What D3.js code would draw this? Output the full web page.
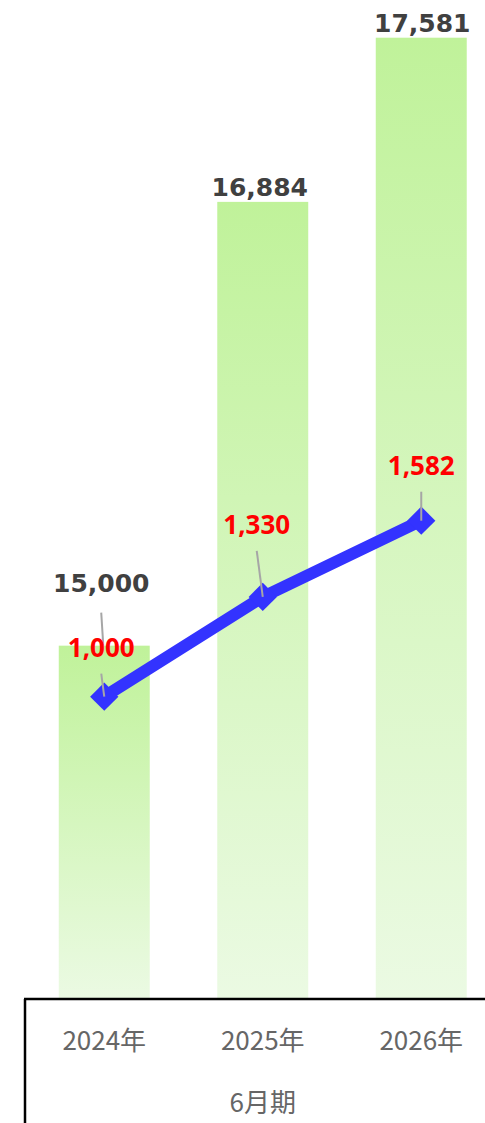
<!DOCTYPE html>
<html>
<head>
<meta charset="utf-8">
<script src="https://cdn.jsdelivr.net/npm/d3@7"></script>
<style>
  html, body { margin: 0; padding: 0; background: #fff; }
  svg { display: block; }
</style>
</head>
<body>
<svg id="chart" width="485" height="1123"></svg>
<script>
// Fiscal periods (June year-end)
const categories = ["2024年", "2025年", "2026年"];
const periodLabel = "6月期";
// Bar series (left axis)
const barValues = [15000, 16884, 17581];
// Line series (right axis)
const lineValues = [1000, 1330, 1582];

const W = 485, H = 1123;
const baseY = 999;
const svg = d3.select("#chart");

const x = d3.scaleBand()
  .domain(categories)
  .range([25, 500.5])
  .paddingInner(0.426)
  .paddingOuter(0.213);

const y = d3.scaleLinear().domain([13500, 18000]).range([baseY, -61]);
const y2 = d3.scaleLinear().domain([0, 3000]).range([baseY, 92]);

const fmt = d3.format(",");

// vertical gradient per bar
const defs = svg.append("defs");
const grad = defs.append("linearGradient")
  .attr("id", "barGrad")
  .attr("x1", 0).attr("y1", 0).attr("x2", 0).attr("y2", 1);
grad.append("stop").attr("offset", "0%").attr("stop-color", "#c0f29a");
grad.append("stop").attr("offset", "100%").attr("stop-color", "#ebfae3");

const cx = c => x(c) + x.bandwidth() / 2;

// bars
svg.append("g").selectAll("rect")
  .data(barValues)
  .join("rect")
  .attr("x", (d, i) => x(categories[i]))
  .attr("y", d => y(d))
  .attr("width", x.bandwidth())
  .attr("height", d => baseY - y(d))
  .attr("fill", "url(#barGrad)");

// bar value labels; the first one is lifted and tied back with a leader
const barLabelLift = [48, 0, 0];
const barLabelDx = [-3, -3, 1];
svg.append("g").selectAll("text")
  .data(barValues)
  .join("text")
  .attr("x", (d, i) => cx(categories[i]) + barLabelDx[i])
  .attr("y", (d, i) => y(d) - 6 - barLabelLift[i])
  .attr("text-anchor", "middle")
  .attr("font-family", "'DejaVu Sans', Verdana, sans-serif")
  .attr("font-weight", "bold")
  .attr("font-size", 25)
  .attr("fill", "#404040")
  .text(d => fmt(d));

svg.append("g").selectAll("line")
  .data(barValues.map((d, i) => ({ d, i })).filter(o => barLabelLift[o.i] > 0))
  .join("line")
  .attr("x1", o => cx(categories[o.i]) + barLabelDx[o.i])
  .attr("y1", o => y(o.d) - 6 - barLabelLift[o.i] + 21)
  .attr("x2", o => cx(categories[o.i]) - 1)
  .attr("y2", o => y(o.d))
  .attr("stroke", "#a6a6a6")
  .attr("stroke-width", 2);

// line series
const line = d3.line()
  .x((d, i) => cx(categories[i]))
  .y(d => y2(d));

svg.append("path")
  .datum(lineValues)
  .attr("d", line)
  .attr("fill", "none")
  .attr("stroke", "#3333ff")
  .attr("stroke-width", 12);

const diamond = d3.symbol().type(d3.symbolSquare).size(400);
svg.append("g").selectAll("path")
  .data(lineValues)
  .join("path")
  .attr("d", diamond)
  .attr("transform", (d, i) => `translate(${cx(categories[i])},${y2(d)}) rotate(45)`)
  .attr("fill", "#3333ff");

// line value labels with leaders
const lineLabelRise = [40, 63, 46];
const lineLabelDx = [-3, -6, 0];
svg.append("g").selectAll("line")
  .data(lineValues)
  .join("line")
  .attr("x1", (d, i) => cx(categories[i]) + lineLabelDx[i])
  .attr("y1", (d, i) => y2(d) - lineLabelRise[i] + 17)
  .attr("x2", (d, i) => cx(categories[i]))
  .attr("y2", d => y2(d))
  .attr("stroke", "#a6a6a6")
  .attr("stroke-width", 2);

svg.append("g").selectAll("text")
  .data(lineValues)
  .join("text")
  .attr("x", (d, i) => cx(categories[i]) + lineLabelDx[i])
  .attr("y", (d, i) => y2(d) - lineLabelRise[i])
  .attr("text-anchor", "middle")
  .attr("font-family", "'Noto Sans', sans-serif")
  .attr("font-weight", "bold")
  .attr("font-size", 26)
  .attr("fill", "#ff0000")
  .text(d => fmt(d));

// category axis
const axisG = svg.append("g");
axisG.append("line")
  .attr("x1", 24).attr("x2", W)
  .attr("y1", baseY).attr("y2", baseY)
  .attr("stroke", "#000").attr("stroke-width", 2.5);
axisG.append("line")
  .attr("x1", 25).attr("x2", 25)
  .attr("y1", baseY).attr("y2", H)
  .attr("stroke", "#000").attr("stroke-width", 2.5);

axisG.selectAll("text.cat")
  .data(categories)
  .join("text")
  .attr("class", "cat")
  .attr("x", d => cx(d))
  .attr("y", 1050)
  .attr("text-anchor", "middle")
  .attr("font-family", "'Noto Sans CJK JP', sans-serif")
  .attr("font-size", 26)
  .attr("fill", "#666")
  .text(d => d);

axisG.append("text")
  .attr("x", (x.range()[0] + x.range()[1]) / 2)
  .attr("y", 1112)
  .attr("text-anchor", "middle")
  .attr("font-family", "'Noto Sans CJK JP', sans-serif")
  .attr("font-size", 26)
  .attr("fill", "#666")
  .text(periodLabel);
</script>
</body>
</html>
